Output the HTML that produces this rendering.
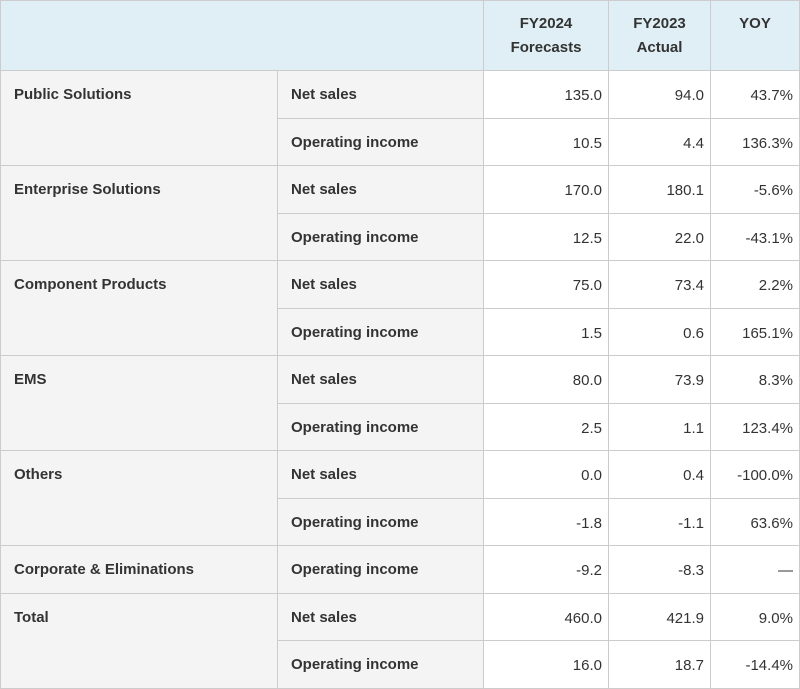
<!DOCTYPE html>
<html><head><meta charset="utf-8"><style>
body{margin:0;width:800px;height:689px;background:#fff;font-family:"Liberation Sans",sans-serif;color:#333;position:relative;overflow:hidden}
.c{position:absolute;box-sizing:border-box;border:1px solid #ccc;font-size:15px;}
.h{background:#e0eff6;font-weight:bold;text-align:center;padding-top:11px;line-height:24px}
.seg{background:#f4f4f4;font-weight:bold;padding:15px 0 0 13px}
.met{background:#f4f4f4;font-weight:bold;padding:15px 0 0 13px}
.n{text-align:right;padding:16px 6px 0 0}
</style></head><body>
<div id="t"></div>
<script>
const rows=[
["Public Solutions",[["Net sales","135.0","94.0","43.7%"],["Operating income","10.5","4.4","136.3%"]]],
["Enterprise Solutions",[["Net sales","170.0","180.1","-5.6%"],["Operating income","12.5","22.0","-43.1%"]]],
["Component Products",[["Net sales","75.0","73.4","2.2%"],["Operating income","1.5","0.6","165.1%"]]],
["EMS",[["Net sales","80.0","73.9","8.3%"],["Operating income","2.5","1.1","123.4%"]]],
["Others",[["Net sales","0.0","0.4","-100.0%"],["Operating income","-1.8","-1.1","63.6%"]]],
["Corporate & Eliminations",[["Operating income","-9.2","-8.3","—"]]],
["Total",[["Net sales","460.0","421.9","9.0%"],["Operating income","16.0","18.7","-14.4%"]]]
];
const t=document.getElementById('t');
function cell(cls,x,y,w,h,txt,name){
 const d=document.createElement('div');
 d.className='c '+cls;
 d.style.cssText=`left:${x}px;top:${y}px;width:${w+1}px;height:${h+1}px`;
 d.innerHTML=txt;
 
 
 t.appendChild(d);
}
cell('h',0,0,483,70,'','header-blank');
cell('h',483,0,125,70,'FY2024<br>Forecasts','header-fy2024');
cell('h',608,0,102,70,'FY2023<br>Actual','header-fy2023');
cell('h',710,0,89,70,'YOY','header-yoy');
const rh=47.5;let y=70;
rows.forEach(([seg,subs])=>{
 const Y=Math.round(y);
 cell('seg',0,Y,277,Math.round(y+rh*subs.length)-Y,seg.replace('&','&amp;'),'segment-label');
 subs.forEach(s=>{
  const a=Math.round(y),b=Math.round(y+rh);
  cell('met',277,a,206,b-a,s[0],'metric-label');
  cell('n',483,a,125,b-a,s[1],'fy2024-value');
  cell('n',608,a,102,b-a,s[2],'fy2023-value');
  cell('n',710,a,89,b-a,s[3],'yoy-value');
  y+=rh;
 });
});
</script>
</body></html>
